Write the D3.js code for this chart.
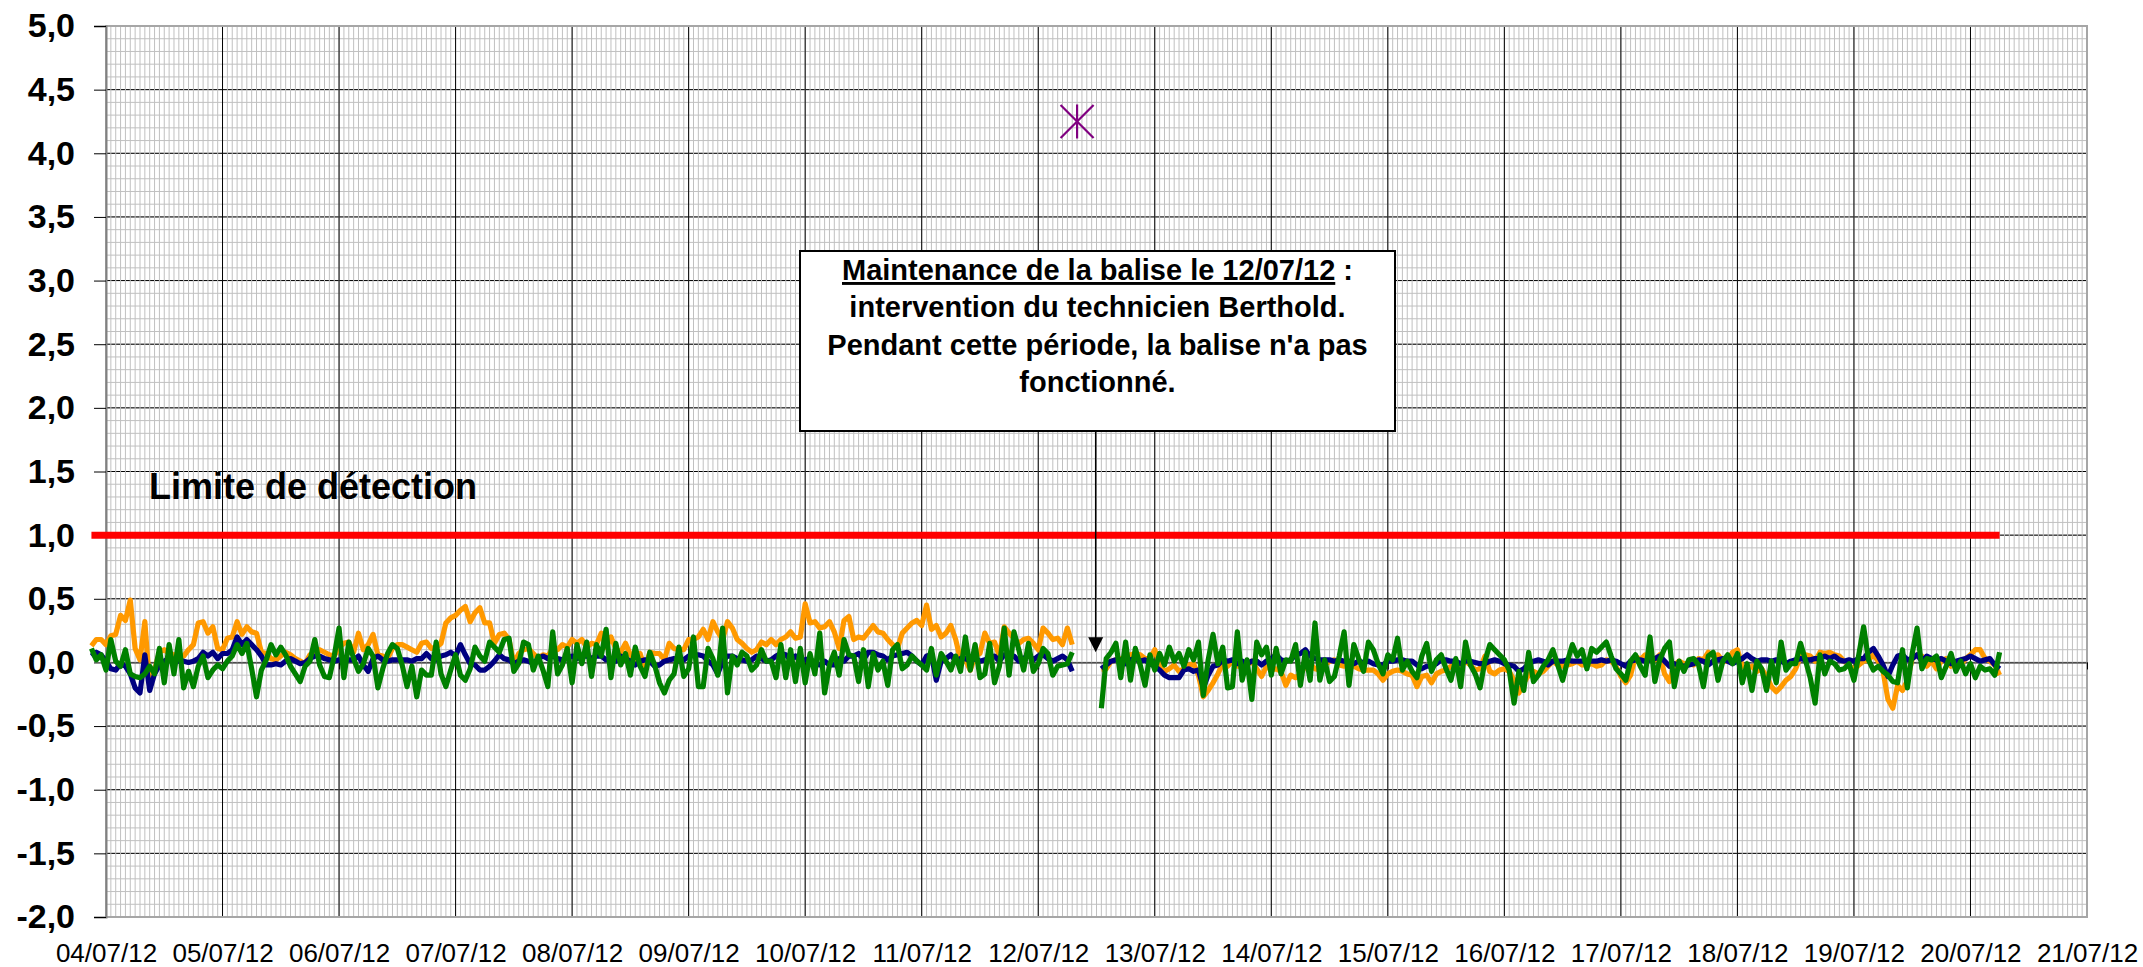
<!DOCTYPE html>
<html>
<head>
<meta charset="utf-8">
<script src="https://cdn.jsdelivr.net/npm/d3@7"></script>
<style>
body{margin:0;background:#fff;}
text{font-family:"Liberation Sans",Arial,sans-serif;}
</style>
</head>
<body>
<script>
// hourly readings, first block starts 03/07 21:00, second block 12/07 13:00 (after maintenance)
const seg1Start = "2012-07-03T21:00:00Z";
const seg2Start = "2012-07-12T13:00:00Z";

const orange1 = [0.13,0.18,0.18,0.14,0.21,0.22,
 0.37,0.33,0.49,0.11,0.02,0.32,-0.19,-0.06,
 0.08,0.10,0.07,0.06,0.05,0.05,0.10,0.14,0.31,0.32,
 0.23,0.28,0.11,0.10,0.19,0.20,0.32,0.22,0.28,0.24,
 0.23,0.08,0.07,0.03,0.02,0.05,0.08,0.06,0.03,0.01,
 -0.01,0.06,0.08,0.10,0.08,0.06,0.05,0.12,0.15,0.16,
 0.08,0.23,0.10,0.14,0.22,0.06,0.05,0.03,0.11,0.14,
 0.14,0.12,0.10,0.08,0.15,0.16,0.11,0.12,0.15,0.31,
 0.35,0.37,0.41,0.44,0.32,
 0.39,0.43,0.31,0.31,0.15,0.22,0.23,0.18,-0.01,0.07,
 0.10,0.11,0.07,0.03,0.06,0.05,0.11,0.10,0.14,0.12,
 0.18,0.15,0.18,0.12,0.15,0.14,0.23,0.12,0.20,0.11,
 0.08,0.15,0.06,0.02,0.07,-0.05,0.08,0.07,0.07,0.02,
 0.15,0.11,0.10,0.10,0.18,0.18,0.20,0.26,0.18,0.32,
 0.24,0.18,0.32,0.27,0.18,0.15,0.11,0.08,0.10,0.16,
 0.14,0.18,0.14,0.18,0.20,0.24,0.19,0.20,0.46,0.31,
 0.32,0.27,0.28,0.32,0.24,0.11,0.33,0.36,0.18,
 0.20,0.19,0.24,0.29,0.24,0.23,0.18,0.14,0.11,0.23,
 0.27,0.31,0.33,0.29,0.45,0.26,0.29,0.20,0.23,0.29,
 0.18,0.02,0.02,-0.06,0.05,0.07,0.23,0.15,0.16,0.05,
 0.28,0.23,0.19,0.15,0.18,0.19,0.15,0.10,0.27,0.23,
 0.18,0.19,0.14,0.27,0.14];
const navy1 = [0.05,0.08,0.06,0.01,-0.05,-0.06,
 -0.01,-0.03,-0.09,-0.20,-0.24,0.06,-0.22,-0.09,
 -0.02,0.01,0.03,0.02,0.01,0.01,0.00,0.01,0.03,0.08,
 0.05,0.08,0.03,0.07,0.07,0.10,0.20,0.14,0.18,0.14,
 0.10,0.05,-0.02,-0.02,-0.01,-0.02,0.01,0.03,0.01,-0.01,
 0.00,0.03,0.05,0.05,0.03,0.02,0.01,0.02,0.01,0.02,
 0.02,0.05,-0.02,-0.07,0.03,0.05,0.02,0.01,0.02,0.02,
 0.02,0.02,0.01,0.03,0.03,0.07,0.03,0.02,0.05,0.06,
 0.08,0.05,0.14,0.06,-0.01,
 -0.02,-0.06,-0.06,-0.03,0.01,0.06,0.03,0.02,-0.01,0.01,
 0.02,0.01,-0.01,0.03,0.05,0.03,0.05,0.03,0.02,0.03,
 0.05,0.03,0.05,0.05,0.03,0.05,0.05,0.02,0.03,0.01,
 0.05,0.03,0.01,-0.02,0.01,0.02,0.01,-0.03,-0.02,0.01,
 0.02,0.03,0.01,0.02,0.05,0.06,0.06,0.05,0.01,-0.02,
 -0.09,0.01,0.05,0.05,0.03,0.02,0.01,0.02,0.05,0.03,
 0.01,0.02,0.05,0.07,0.06,0.02,0.05,0.01,0.02,0.03,
 -0.01,-0.02,0.01,-0.02,-0.02,0.03,0.01,0.05,0.05,
 0.07,0.02,0.08,0.08,0.06,0.05,0.02,0.05,0.06,0.07,
 0.08,0.05,0.01,-0.02,0.05,0.06,-0.14,0.01,0.03,0.06,
 0.01,0.03,0.03,0.01,0.03,0.01,0.02,0.03,0.05,0.01,
 0.06,0.05,0.05,0.01,0.03,0.06,0.02,0.05,0.06,0.03,
 0.01,0.03,0.05,0.02,-0.07];
const green1 = [0.11,0.02,0.06,-0.06,0.18,0.01,
 -0.03,0.10,-0.09,-0.11,-0.12,-0.09,-0.03,-0.09,
 0.11,-0.16,0.14,-0.09,0.18,-0.20,-0.07,-0.19,-0.03,0.05,
 -0.12,-0.06,-0.02,-0.05,0.01,0.05,0.14,0.07,0.15,-0.05,
 -0.27,-0.06,0.02,0.14,0.06,0.12,0.06,-0.03,-0.09,-0.15,
 -0.03,0.01,0.18,-0.02,-0.11,-0.12,0.05,0.27,-0.12,0.16,
 0.03,-0.07,-0.01,0.11,0.05,-0.20,-0.05,0.07,0.14,0.11,
 -0.02,-0.19,-0.03,-0.27,-0.06,-0.10,-0.10,0.16,-0.09,-0.19,
 -0.06,0.06,-0.10,-0.14,-0.05,
 0.12,0.05,0.01,0.16,0.12,0.08,0.18,0.19,-0.07,-0.01,
 0.16,0.14,-0.06,0.05,-0.06,-0.19,0.24,-0.09,-0.02,0.11,
 -0.16,0.14,-0.01,0.16,-0.11,0.14,0.05,0.26,-0.12,0.15,
 -0.02,0.07,-0.10,0.12,-0.03,-0.11,0.08,-0.02,-0.16,-0.24,
 -0.14,-0.09,0.12,-0.11,-0.05,0.20,-0.19,-0.19,0.11,0.03,
 -0.10,0.27,-0.24,0.05,-0.02,0.08,0.05,-0.06,-0.02,0.10,
 0.01,0.01,-0.12,0.14,-0.12,0.10,-0.15,0.11,-0.16,0.07,
 -0.09,0.23,-0.24,-0.02,0.08,-0.10,0.18,0.06,0.05,
 -0.15,0.10,-0.19,0.07,-0.06,0.01,-0.18,0.10,0.14,-0.05,
 -0.02,0.05,0.01,-0.02,-0.06,0.11,-0.10,0.07,0.01,-0.06,
 0.05,-0.07,0.20,-0.06,0.14,-0.12,-0.09,0.15,-0.16,-0.03,
 0.27,-0.10,0.24,0.10,-0.06,0.15,-0.07,-0.01,0.11,0.07,
 -0.10,-0.03,-0.02,-0.01,0.08];

const orange2 = [-0.06,-0.05,0.01,0.02,0.03,0.01,0.06,0.07,0.06,0.03,
 0.03,0.10,-0.02,-0.07,-0.05,-0.02,-0.07,-0.05,-0.02,-0.01,
 -0.10,-0.27,-0.22,-0.16,-0.09,-0.01,-0.03,0.01,-0.03,
 -0.03,-0.02,0.01,-0.05,-0.11,-0.03,-0.06,-0.05,-0.07,-0.18,
 -0.10,-0.12,-0.09,-0.03,-0.01,-0.05,-0.06,-0.02,0.01,0.02,
 -0.02,-0.03,-0.02,-0.03,-0.05,-0.06,-0.06,-0.06,-0.09,-0.14,
 -0.09,-0.07,-0.06,-0.07,-0.09,-0.10,-0.19,-0.11,-0.10,-0.16,
 -0.09,-0.07,-0.06,-0.03,-0.02,-0.03,0.01,-0.02,-0.06,-0.05,
 0.05,-0.07,-0.09,-0.06,-0.05,-0.07,-0.14,-0.24,-0.16,-0.10,
 -0.07,-0.09,-0.07,-0.03,0.01,-0.02,-0.03,-0.02,-0.01,0.01,
 -0.02,-0.02,-0.01,-0.03,-0.02,0.02,0.01,-0.03,-0.11,
 -0.16,-0.10,0.05,0.02,0.06,0.05,0.02,0.06,-0.09,-0.15,
 -0.02,0.01,-0.01,-0.01,-0.02,0.03,0.02,0.08,0.05,0.06,
 0.01,0.01,0.08,0.10,-0.03,-0.05,-0.03,-0.07,-0.05,-0.11,
 -0.19,-0.23,-0.19,-0.14,-0.11,-0.05,0.05,0.06,0.05,0.01,
 0.08,0.07,0.08,0.06,0.05,0.01,-0.02,-0.06,-0.02,0.01,
 0.02,0.06,0.01,-0.07,-0.29,-0.36,-0.18,-0.22,-0.14,0.03,
 0.06,0.05,-0.03,0.01,-0.05,0.01,0.03,-0.03,-0.01,-0.02,
 0.03,0.06,0.10,0.10,0.03,0.01,-0.02,-0.10];
const navy2 = [-0.05,-0.02,0.01,0.02,0.02,-0.01,0.02,0.03,0.01,0.02,
 -0.01,-0.03,-0.06,-0.10,-0.12,-0.12,-0.12,-0.06,-0.05,-0.07,
 -0.06,-0.20,-0.10,-0.03,-0.02,0.02,0.01,0.02,-0.01,
 0.01,-0.01,0.01,0.01,-0.02,0.01,0.03,0.06,0.02,0.01,
 0.02,0.06,0.07,0.10,0.05,0.03,0.02,0.02,0.02,0.01,
 0.02,0.01,0.01,-0.01,0.01,0.00,0.01,-0.01,-0.02,-0.02,
 0.01,0.01,0.02,0.02,0.01,0.01,-0.02,-0.05,-0.03,-0.03,
 -0.01,0.02,0.02,0.01,0.01,-0.01,0.01,0.01,0.00,-0.01,
 -0.01,0.01,0.02,0.01,-0.01,-0.02,-0.03,-0.07,-0.05,-0.01,
 0.01,0.02,0.01,-0.02,0.01,0.01,0.01,0.02,0.01,0.01,
 0.01,0.01,0.01,0.01,0.02,0.01,0.02,0.01,-0.01,
 -0.03,0.01,0.02,0.02,0.01,0.02,0.03,0.05,0.01,-0.03,
 -0.01,-0.02,-0.03,-0.02,-0.01,0.02,0.01,-0.02,0.01,0.02,
 0.03,0.01,-0.01,0.01,0.03,0.06,0.03,0.01,0.02,0.02,
 0.01,0.02,0.01,-0.01,0.01,0.02,0.03,0.02,0.02,0.03,
 0.03,0.05,0.03,0.05,0.02,0.01,0.02,0.01,0.03,0.03,
 0.08,0.11,0.05,-0.02,-0.11,-0.02,0.05,0.06,0.02,0.03,
 0.06,0.01,0.05,0.03,0.02,0.03,0.01,-0.01,0.01,0.02,
 0.03,0.05,0.03,0.01,0.02,0.03,-0.02,-0.05];
const green2 = [-0.36,0.03,0.08,0.15,-0.12,0.16,-0.14,0.11,-0.02,-0.18,
 0.06,-0.06,0.07,-0.02,0.12,0.01,0.07,-0.03,0.10,0.02,
 0.16,-0.26,0.02,0.22,-0.01,0.12,-0.20,-0.19,0.24,
 -0.14,0.02,-0.29,0.16,0.06,0.12,-0.10,0.11,-0.09,0.02,
 0.01,0.14,-0.18,0.08,-0.14,0.31,-0.14,0.02,-0.15,-0.11,
 0.05,0.24,-0.18,0.14,0.03,-0.07,0.16,0.10,-0.01,-0.09,
 0.06,0.02,0.19,-0.06,0.01,-0.07,-0.12,0.05,0.15,-0.07,
 0.02,0.06,-0.05,-0.14,0.03,-0.19,0.16,-0.02,-0.09,-0.20,
 0.01,0.14,0.10,0.06,0.02,-0.06,-0.32,-0.07,-0.22,0.08,
 -0.15,-0.10,-0.03,0.02,0.10,-0.02,-0.14,0.01,0.14,0.05,
 0.10,-0.05,0.11,0.08,0.12,0.16,0.05,-0.05,-0.09,
 -0.14,0.01,0.06,-0.03,-0.10,0.20,-0.15,0.02,0.11,0.16,
 -0.19,0.01,-0.07,0.02,0.03,-0.02,-0.19,0.05,0.08,-0.14,
 0.01,0.06,-0.01,0.07,-0.16,-0.01,-0.22,0.01,-0.05,-0.22,
 0.01,-0.16,0.16,-0.06,-0.01,-0.01,0.15,0.02,-0.12,-0.32,
 0.06,-0.09,0.01,-0.01,-0.06,-0.05,-0.01,-0.14,0.06,0.28,
 0.02,-0.06,-0.03,-0.07,-0.10,-0.15,-0.16,0.10,-0.20,0.07,
 0.27,-0.05,0.03,0.02,0.05,-0.12,-0.03,0.07,-0.07,0.01,
 -0.09,-0.01,-0.12,-0.03,-0.06,-0.05,-0.10,0.08];

// isolated high reading during the maintenance
const peakTime = ["2012-07-12T08:00:00Z"];
const peakValue = [4.25];

// detection limit line
const limitTimes = ["2012-07-03T21:00:00Z", "2012-07-20T06:00:00Z"];
const limitValues = [1.0, 1.0];

const yTicks = [-2,-1.5,-1,-0.5,0,0.5,1,1.5,2,2.5,3,3.5,4,4.5,5];
const xTickLabels = ["04/07/12","05/07/12","06/07/12","07/07/12","08/07/12","09/07/12",
 "10/07/12","11/07/12","12/07/12","13/07/12","14/07/12","15/07/12","16/07/12",
 "17/07/12","18/07/12","19/07/12","20/07/12","21/07/12"];

const noteLines = ["intervention du technicien Berthold.",
 "Pendant cette période, la balise n'a pas", "fonctionné."];
const arrowTime = "2012-07-12T11:50:00Z";
const arrowValue = 0.08;

// layout
const width = 2143, height = 967;
const mLeft = 106, mRight = 2087, mTop = 26, mBottom = 917;

const svg = d3.select("body").append("svg")
	.attr("width", width)
	.attr("height", height);

const x = d3.scaleUtc()
	.domain([new Date("2012-07-04T00:00:00Z"), new Date("2012-07-21T00:00:00Z")])
	.range([mLeft, mRight]);
const y = d3.scaleLinear()
	.domain([-2, 5])
	.range([mBottom, mTop]);

const days = d3.utcDay.range(x.domain()[0], d3.utcHour.offset(x.domain()[1], 1));
const hours = d3.utcHour.range(x.domain()[0], x.domain()[1]);

//grid
const grid = svg.append("g");
grid.selectAll(".hmin").data(y.ticks(70)).enter().append("line")
	.attr("x1", mLeft).attr("x2", mRight)
	.attr("y1", d => y(d)).attr("y2", d => y(d))
	.attr("stroke", "#c0c0c0").attr("stroke-width", 1);
grid.selectAll(".hmaj").data(yTicks).enter().append("line")
	.attr("x1", mLeft).attr("x2", mRight)
	.attr("y1", d => y(d)).attr("y2", d => y(d))
	.attr("stroke", "#000").attr("stroke-width", 1);
grid.selectAll(".vmin").data(hours).enter().append("line")
	.attr("x1", d => x(d)).attr("x2", d => x(d))
	.attr("y1", mTop).attr("y2", mBottom)
	.attr("stroke", "#c0c0c0").attr("stroke-width", 1);
grid.selectAll(".vmaj").data(days).enter().append("line")
	.attr("x1", d => x(d)).attr("x2", d => x(d))
	.attr("y1", mTop).attr("y2", mBottom)
	.attr("stroke", "#000").attr("stroke-width", 1);

// plot border
svg.append("rect")
	.attr("x", mLeft).attr("y", mTop)
	.attr("width", mRight - mLeft).attr("height", mBottom - mTop)
	.attr("fill", "none").attr("stroke", "#a6a6a6").attr("stroke-width", 2);

// y axis
const yAxis = svg.append("g")
	.attr("transform", "translate(" + mLeft + ",0)")
	.call(d3.axisLeft(y).tickValues(yTicks).tickSize(12).tickPadding(19)
		.tickFormat(d => d3.format(".1f")(d).replace(".", ",").replace("−", "-")));
yAxis.select(".domain").attr("stroke", "#808080").attr("stroke-width", 2);
yAxis.selectAll(".tick line").attr("stroke", "#000");
yAxis.selectAll("text")
	.attr("font-size", 34).attr("font-weight", "bold")
	.attr("font-family", "'Liberation Sans', Arial, sans-serif")
	.attr("fill", "#000");

// x axis line at 0
const xAxis = svg.append("g")
	.attr("transform", "translate(0," + y(0) + ")")
	.call(d3.axisBottom(x).tickValues(days).tickSize(7).tickSizeOuter(0).tickFormat(""));
xAxis.select(".domain").attr("stroke", "#606060").attr("stroke-width", 1.5);
xAxis.selectAll(".tick line").attr("stroke", "#000");

// date labels at the bottom
const xLabels = svg.append("g")
	.attr("transform", "translate(0," + mBottom + ")")
	.call(d3.axisBottom(x).tickValues(days).tickSize(0).tickPadding(27)
		.tickFormat((d, i) => xTickLabels[i]));
xLabels.select(".domain").remove();
xLabels.selectAll("text")
	.attr("font-size", 26)
	.attr("font-family", "'Liberation Sans', Arial, sans-serif")
	.attr("fill", "#000");

// detection limit
const line = d3.line().x(d => x(d.t)).y(d => y(d.v));
svg.append("path")
	.datum(limitTimes.map((t, i) => ({t: new Date(t), v: limitValues[i]})))
	.attr("d", line)
	.attr("fill", "none").attr("stroke", "#ff0000").attr("stroke-width", 7);

svg.append("text")
	.attr("x", 149).attr("y", 499)
	.attr("font-size", 36).attr("font-weight", "bold")
	.text("Limite de détection");

// series
function toPoints(start, values){
	const t0 = new Date(start);
	return values.map((v, i) => ({t: d3.utcHour.offset(t0, i), v: v}));
}
const series = [
	{color: "#ff9900", parts: [[seg1Start, orange1], [seg2Start, orange2]]},
	{color: "#000080", parts: [[seg1Start, navy1], [seg2Start, navy2]]},
	{color: "#008000", parts: [[seg1Start, green1], [seg2Start, green2]]}
];
series.forEach(s => {
	s.parts.forEach(p => {
		svg.append("path")
			.datum(toPoints(p[0], p[1]))
			.attr("d", line)
			.attr("fill", "none")
			.attr("stroke", s.color)
			.attr("stroke-width", 5.2)
			.attr("stroke-linejoin", "round");
	});
});

// star marker
const star = svg.selectAll(".star").data(peakTime).enter().append("g")
	.attr("transform", (d, i) => "translate(" + x(new Date(d)) + "," + y(peakValue[i]) + ")")
	.attr("stroke", "#800080").attr("stroke-width", 2.2);
star.append("line").attr("x1", 0).attr("x2", 0).attr("y1", -17).attr("y2", 17);
star.append("line").attr("x1", -16.5).attr("x2", 16.5).attr("y1", -16.5).attr("y2", 16.5);
star.append("line").attr("x1", -16.5).attr("x2", 16.5).attr("y1", 16.5).attr("y2", -16.5);

// annotation box and arrow
const box = {x: 800, y: 251, w: 595, h: 180};
const ax = x(new Date(arrowTime)), ay = y(arrowValue);
svg.append("line")
	.attr("x1", ax).attr("x2", ax)
	.attr("y1", box.y + box.h).attr("y2", ay - 12)
	.attr("stroke", "#000").attr("stroke-width", 1.5);
svg.append("path")
	.attr("d", "M" + (ax - 7.5) + "," + (ay - 15) + "L" + (ax + 7.5) + "," + (ay - 15) + "L" + ax + "," + ay + "Z")
	.attr("fill", "#000");

svg.append("rect")
	.attr("x", box.x).attr("y", box.y)
	.attr("width", box.w).attr("height", box.h)
	.attr("fill", "#fff").attr("stroke", "#000").attr("stroke-width", 2);

const cx = box.x + box.w / 2;
const t1 = svg.append("text")
	.attr("x", cx).attr("y", 280)
	.attr("text-anchor", "middle")
	.attr("font-size", 29).attr("font-weight", "bold");
t1.append("tspan").attr("text-decoration", "underline").text("Maintenance de la balise le 12/07/12");
t1.append("tspan").text("\u00a0:");

svg.selectAll(".note").data(noteLines).enter().append("text")
	.attr("x", cx).attr("y", (d, i) => 317 + i * 37.5)
	.attr("text-anchor", "middle")
	.attr("font-size", 29).attr("font-weight", "bold")
	.text(d => d);
</script>
</body>
</html>
